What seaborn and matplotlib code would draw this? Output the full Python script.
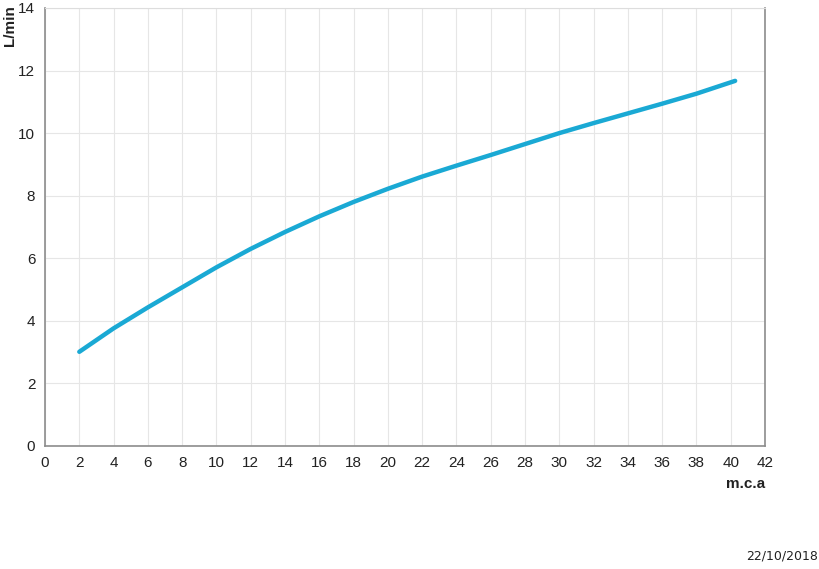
import matplotlib
matplotlib.use('Agg')
import matplotlib.pyplot as plt
import seaborn as sns
import pandas as pd

# pressure (m.c.a) vs flow (L/min)
pressure = [2, 4, 6, 8, 10, 12, 14, 16, 18, 20, 22, 24, 26, 28, 30, 32, 34, 36, 38, 40.26]
flow = [3.01, 3.76, 4.43, 5.07, 5.71, 6.30, 6.84, 7.34, 7.80, 8.22, 8.61, 8.96, 9.30,
        9.65, 10.0, 10.32, 10.63, 10.94, 11.26, 11.67]
x_ticks = list(range(0, 43, 2))
y_ticks = list(range(0, 15, 2))

df = pd.DataFrame({'pressure': pressure, 'flow': flow})

sns.set_style('white')
plt.rcParams['font.family'] = ['Liberation Sans', 'DejaVu Sans']

fig = plt.figure(figsize=(8.2, 5.69), dpi=100)
ax = fig.add_axes([0.0549, 0.2162, 0.878, 0.7698])

sns.lineplot(data=df, x='pressure', y='flow', ax=ax, color='#1aa9d4', lw=3.2,
             solid_capstyle='round', solid_joinstyle='round')

ax.set_xlim(0, 42)
ax.set_ylim(0, 14)
ax.set_xticks(x_ticks)
ax.set_yticks(y_ticks)
ax.tick_params(axis='both', labelsize=11, labelcolor='#222222', color='#888888',
               length=4, width=0.8, direction='out', pad=3)
ax.grid(True, color='#e6e6e6', lw=0.8)
ax.set_xlabel('')
ax.set_ylabel('')

for side in ['left', 'bottom', 'right']:
    ax.spines[side].set_color('#8c8c8c')
    ax.spines[side].set_linewidth(1.2)
ax.spines['top'].set_color('#dddddd')
ax.spines['top'].set_linewidth(0.8)

fig.text(0.012, 0.955, 'L/min', rotation=90, fontsize=11, fontweight='bold',
         ha='center', va='center', color='#222222')
fig.text(0.909, 0.149, 'm.c.a', fontsize=11, fontweight='bold',
         ha='center', va='center', color='#222222')
fig.text(0.997, 0.023, '22/10/2018', fontsize=9, ha='right', va='center',
         color='#222222', family=['DejaVu Sans'])

plt.savefig('out.png', dpi=100)
